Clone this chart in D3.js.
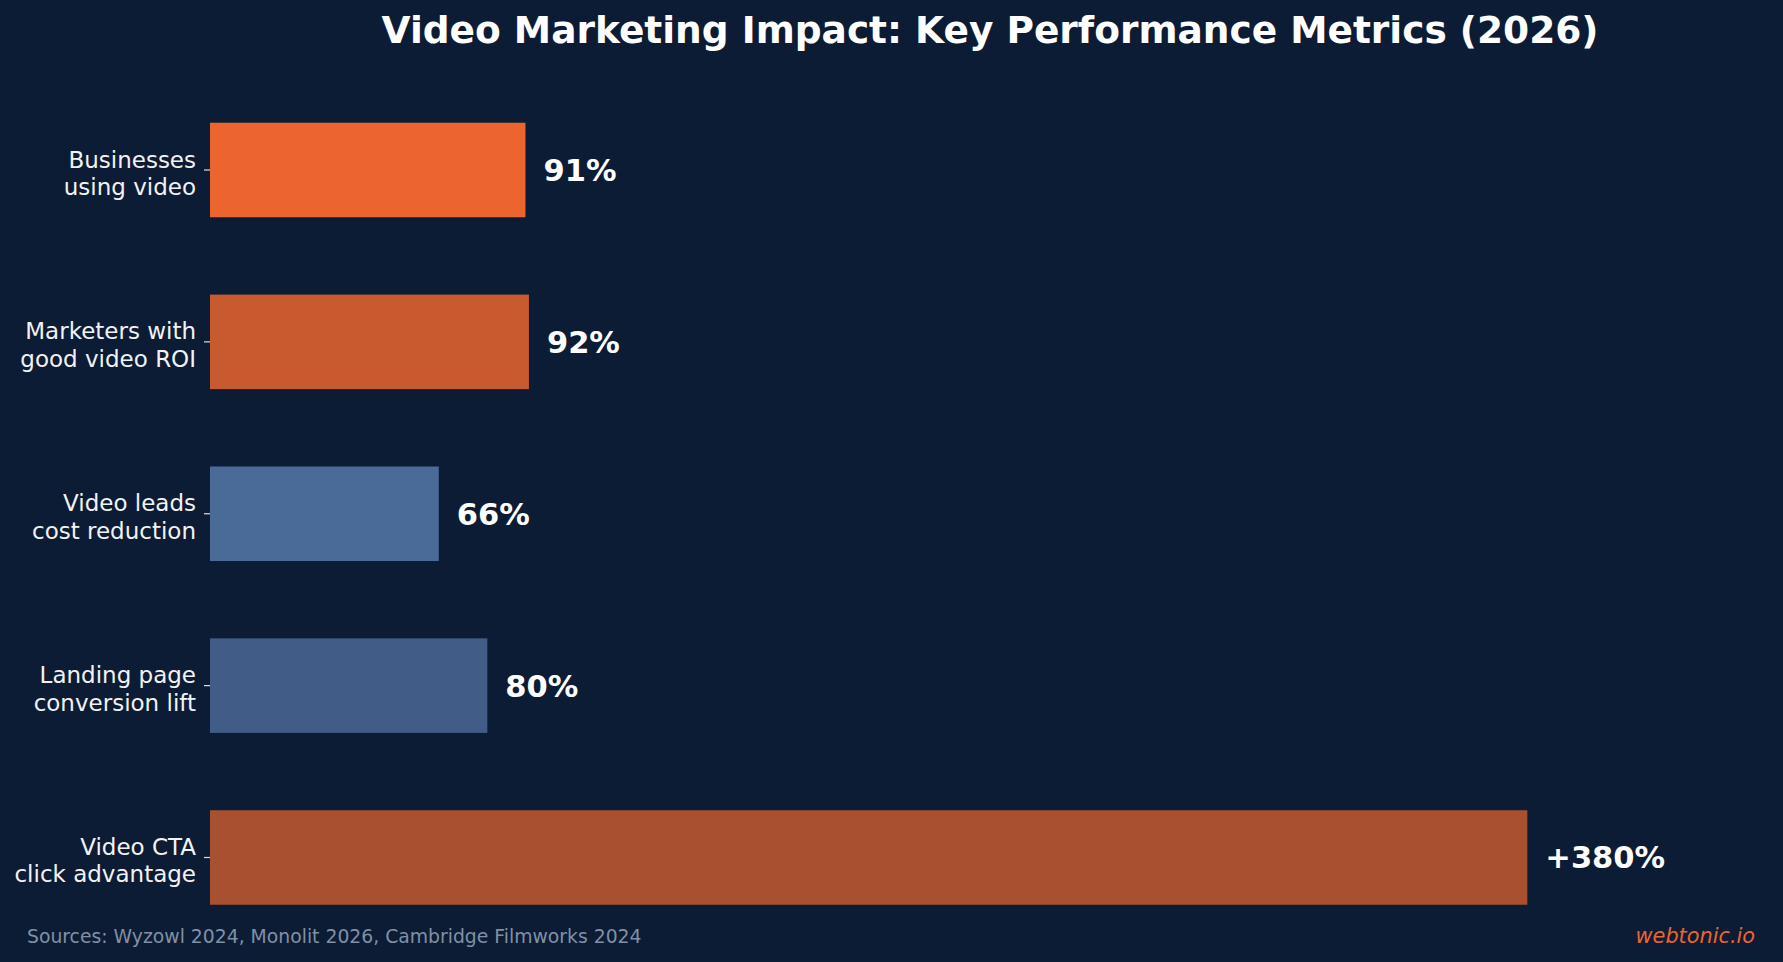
<!DOCTYPE html>
<html lang="en">
<head>
<meta charset="UTF-8">
<title>Video Marketing Impact</title>
<script src="https://d3js.org/d3.v7.min.js"></script>
<style>
    html, body { margin: 0; padding: 0; background: #0c1c35; }
    svg { display: block; }
    text { font-family: 'DejaVu Sans', sans-serif; }
</style>
</head>
<body>
<div id="chart"></div>
<script>
    // chart data
    const categories = [
        ["Businesses", "using video"],
        ["Marketers with", "good video ROI"],
        ["Video leads", "cost reduction"],
        ["Landing page", "conversion lift"],
        ["Video CTA", "click advantage"]
    ];
    const values = [91, 92, 66, 80, 380];
    const valueLabels = ["91%", "92%", "66%", "80%", "+380%"];
    const barColors = ["#ec652e", "#c85a2f", "#4a6a98", "#415c87", "#a85030"];

    const W = 1783, H = 962;
    const svg = d3.select("#chart").append("svg")
        .attr("width", W).attr("height", H);

    svg.append("rect").attr("width", W).attr("height", H).attr("fill", "#0c1c35");

    const x = d3.scaleLinear().domain([0, 450]).range([210, 1770]);
    const y = d3.scaleLinear().domain([0, categories.length - 1]).range([170, 857.5]);
    const step = y(1) - y(0);
    const barH = step * 0.55;

    // bars
    svg.selectAll(".bar")
        .data(values)
        .enter().append("rect")
        .attr("class", "bar")
        .attr("x", x(0))
        .attr("y", (d, i) => y(i) - barH / 2)
        .attr("width", d => x(d) - x(0))
        .attr("height", barH)
        .attr("fill", (d, i) => barColors[i]);

    // value labels
    svg.selectAll(".val")
        .data(values)
        .enter().append("text")
        .attr("class", "val")
        .attr("x", d => x(d) + 18)
        .attr("y", (d, i) => y(i))
        .attr("dy", "0.36em")
        .attr("fill", "#ffffff")
        .attr("font-size", 30.5)
        .attr("font-weight", "bold")
        .text((d, i) => valueLabels[i]);

    // y axis ticks + labels
    const ticks = svg.selectAll(".tick")
        .data(categories)
        .enter().append("g")
        .attr("class", "tick")
        .attr("transform", (d, i) => `translate(${x(0)},${y(i)})`);

    ticks.append("line")
        .attr("x1", -6).attr("x2", 0)
        .attr("stroke", "#dddddd").attr("stroke-width", 1.2);

    ticks.append("text")
        .attr("text-anchor", "end")
        .attr("fill", "#f2f2f2")
        .attr("font-size", 23)
        .selectAll("tspan")
        .data(d => d)
        .enter().append("tspan")
        .attr("x", -14)
        .attr("y", (d, i) => (i - 0.5) * 27.4 + 3)
        .attr("dy", "0.36em")
        .text(d => d);

    // title
    svg.append("text")
        .attr("x", 990).attr("y", 43)
        .attr("text-anchor", "middle")
        .attr("fill", "#ffffff")
        .attr("font-size", 37.5)
        .attr("font-weight", "bold")
        .text("Video Marketing Impact: Key Performance Metrics (2026)");

    // footer
    svg.append("text")
        .attr("x", 27).attr("y", 943)
        .attr("fill", "#8090a6")
        .attr("font-size", 18.8)
        .text("Sources: Wyzowl 2024, Monolit 2026, Cambridge Filmworks 2024");

    svg.append("text")
        .attr("x", 1755).attr("y", 943)
        .attr("text-anchor", "end")
        .attr("fill", "#ec652e")
        .attr("font-size", 20.8)
        .attr("font-style", "italic")
        .text("webtonic.io");
</script>
</body>
</html>
